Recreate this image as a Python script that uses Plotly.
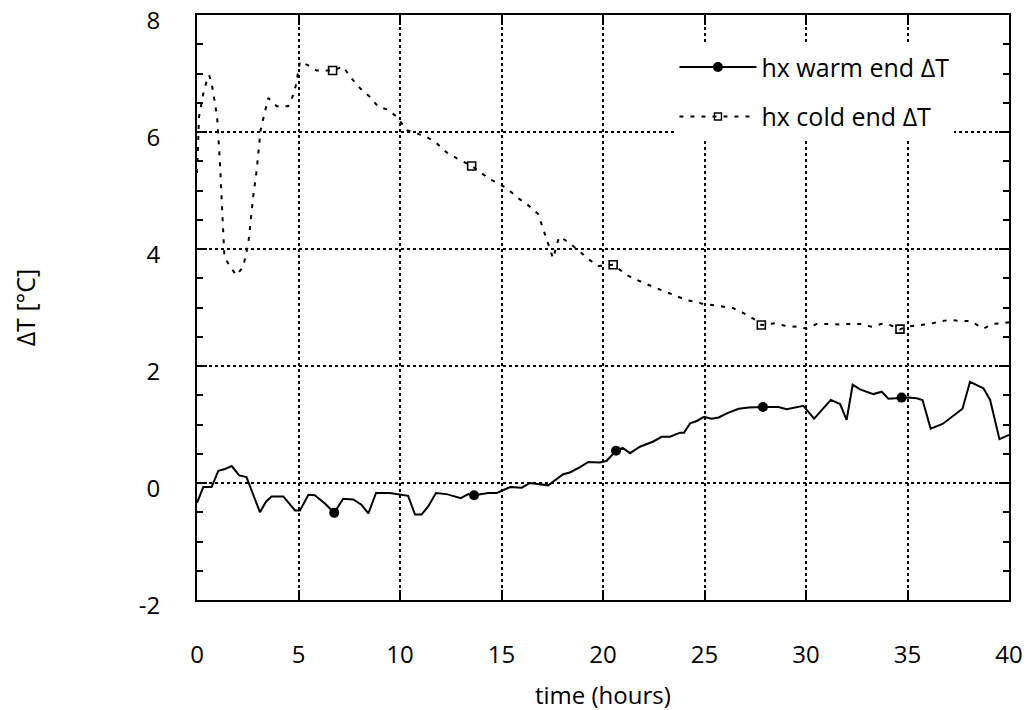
import plotly.graph_objects as go

# ---------------- data ----------------
warm_x = [0, 0.31, 0.72, 1.05, 1.38, 1.71, 2.08, 2.44, 3.1, 3.4, 3.67, 4.25, 4.83, 5.07, 5.49, 5.8,
          6.3, 6.76, 7.2, 7.7, 8.1, 8.44, 8.82, 9.5, 10.4, 10.74, 11.06, 11.39, 11.77, 12.3, 12.99,
          13.37, 13.65, 14.35, 14.77, 15.43, 16.0, 16.4, 17.3, 18.04, 18.37, 18.87, 19.28, 19.85,
          20.18, 20.64, 20.97, 21.33, 21.82, 22.48, 22.89, 23.3, 23.8, 23.99, 24.29, 24.62, 24.98,
          25.36, 25.7, 26.1, 26.68, 27.17, 27.88, 28.64, 29.05, 29.87, 30.4, 30.78, 31.22, 31.68,
          32.0, 32.3, 32.66, 33.32, 33.73, 34.06, 34.71, 35.04, 35.45, 35.74, 36.14, 36.73, 37.71,
          38.08, 38.74, 39.07, 39.53, 40]
warm_y = [-0.34, -0.07, -0.07, 0.21, 0.24, 0.29, 0.13, 0.10, -0.50, -0.32, -0.23, -0.23, -0.47, -0.47,
          -0.20, -0.21, -0.35, -0.51, -0.27, -0.28, -0.37, -0.52, -0.17, -0.17, -0.22, -0.54, -0.54,
          -0.40, -0.17, -0.19, -0.26, -0.19, -0.21, -0.17, -0.17, -0.07, -0.08, 0.0, -0.04, 0.15,
          0.18, 0.27, 0.36, 0.35, 0.38, 0.55, 0.60, 0.51, 0.62, 0.71, 0.79, 0.79, 0.86, 0.86, 1.02,
          1.06, 1.13, 1.10, 1.12, 1.19, 1.27, 1.29, 1.30, 1.30, 1.26, 1.32, 1.10, 1.25, 1.42, 1.35,
          1.08, 1.68, 1.60, 1.52, 1.56, 1.44, 1.46, 1.46, 1.45, 1.42, 0.93, 1.01, 1.27, 1.73, 1.62,
          1.42, 0.75, 0.82]
warm_mark_x = [6.76, 13.65, 20.64, 27.88, 34.71]
warm_mark_y = [-0.51, -0.21, 0.55, 1.30, 1.46]

cold_x = [0, 0.1, 0.31, 0.47, 0.6, 0.72, 0.89, 1.0, 1.13, 1.21, 1.3, 1.35, 1.62, 1.95, 2.28, 2.53,
          2.77, 2.94, 3.13, 3.35, 3.51, 3.93, 4.49, 4.74, 4.87, 5.07, 5.48, 5.89, 6.68, 7.2, 7.53,
          8.03, 8.52, 8.93, 9.43, 9.87, 10.33, 11.3, 11.8, 12.3, 12.8, 13.53, 14.35, 15.25, 15.82,
          16.31, 16.8, 17.18, 17.54, 17.79, 17.87, 18.36, 18.77, 19.35, 19.76, 20.5, 21.2, 22.0,
          23.0, 24.1, 24.85, 25.42, 26.4, 26.9, 27.5, 27.8, 28.47, 29.06, 29.55, 30.04, 30.53,
          31.1, 31.68, 32.17, 32.66, 33.24, 33.73, 34.14, 34.63, 35.12, 35.53, 36.1, 36.6, 37.1,
          37.6, 38.1, 38.74, 39.24, 39.65, 40]
cold_y = [5.3, 6.26, 6.66, 6.86, 6.97, 6.83, 6.49, 6.21, 5.47, 4.84, 4.32, 3.87, 3.7, 3.55, 3.7, 4.1,
          4.9, 5.35, 6.03, 6.38, 6.58, 6.44, 6.44, 6.63, 6.8, 7.2, 7.14, 7.05, 7.05, 7.12, 6.95,
          6.75, 6.6, 6.43, 6.38, 6.25, 6.03, 5.92, 5.81, 5.65, 5.55, 5.42, 5.21, 5.04, 4.87,
          4.75, 4.6, 4.21, 3.84, 4.15, 4.21, 4.1, 3.98, 3.81, 3.71, 3.73, 3.55, 3.42,
          3.28, 3.13, 3.07, 3.04, 2.99, 2.91, 2.79, 2.7, 2.73, 2.68, 2.67, 2.64, 2.72,
          2.72, 2.71, 2.72, 2.72, 2.67, 2.72, 2.7, 2.63, 2.68, 2.7, 2.72, 2.76, 2.79,
          2.77, 2.77, 2.64, 2.72, 2.73, 2.75]
cold_mark_x = [6.68, 13.53, 20.5, 27.8, 34.63]
cold_mark_y = [7.05, 5.42, 3.73, 2.70, 2.63]

series_names = ["hx warm end ΔT", "hx cold end ΔT"]
x_ticks = [0, 5, 10, 15, 20, 25, 30, 35, 40]
y_ticks = [-2, 0, 2, 4, 6, 8]

FONT = "Open Sans"
DASH = "4px,7px"

fig = go.Figure()

# warm end (solid line + filled circles)
fig.add_trace(go.Scatter(x=warm_x, y=warm_y, mode="lines", line=dict(color="black", width=2),
                         showlegend=False, hoverinfo="skip"))
fig.add_trace(go.Scatter(x=warm_mark_x, y=warm_mark_y, mode="markers",
                         marker=dict(symbol="circle", size=10, color="black"),
                         showlegend=False))
# cold end (dashed line + open squares)
fig.add_trace(go.Scatter(x=cold_x, y=cold_y, mode="lines",
                         line=dict(color="black", width=2, dash=DASH),
                         showlegend=False, hoverinfo="skip"))
fig.add_trace(go.Scatter(x=cold_mark_x, y=cold_mark_y, mode="markers",
                         marker=dict(symbol="square-open", size=8, color="black",
                                     line=dict(width=1.6, color="black")),
                         showlegend=False))

# legend entries
fig.add_trace(go.Scatter(x=[None], y=[None], mode="lines+markers", name=series_names[0],
                         legendgroup="a",
                         line=dict(color="black", width=2),
                         marker=dict(symbol="circle", size=10, color="black")))
fig.add_trace(go.Scatter(x=[None], y=[None], mode="lines+markers", name=series_names[1],
                         legendgroup="b",
                         line=dict(color="black", width=2, dash=DASH),
                         marker=dict(symbol="square-open", size=7, color="black",
                                     line=dict(width=1.4, color="black"))))

axis_common = dict(
    showline=True, linecolor="black", linewidth=2, mirror="allticks",
    ticks="inside", ticklen=10, tickwidth=2, tickcolor="black",
    showgrid=True, gridcolor="black", gridwidth=1.5, griddash="dot",
    zeroline=False, tickfont=dict(family=FONT, size=24, color="black"),
    ticklabeloverflow="allow",
)

fig.update_xaxes(range=[0, 40], tickvals=x_ticks, ticktext=[str(v) for v in x_ticks],
                 ticklabelstandoff=32, **axis_common)
fig.update_yaxes(range=[-2, 8], tickvals=y_ticks, ticktext=[str(v) for v in y_ticks],
                 ticklabelstandoff=30, ticklabelshift=6,
                 minor=dict(dtick=0.5, ticks="inside", ticklen=6, tickwidth=1.5,
                            tickcolor="black", showgrid=False),
                 **axis_common)

fig.update_layout(
    width=1029, height=710,
    margin=dict(l=197, r=20, t=15, b=110, autoexpand=False),
    paper_bgcolor="white", plot_bgcolor="white",
    font=dict(family=FONT, color="black"),
    showlegend=True,
    legend=dict(x=0.588, y=0.95, xanchor="left", yanchor="top",
                bgcolor="white", borderwidth=0, itemwidth=77,
                traceorder="grouped", tracegroupgap=14,
                font=dict(family=FONT, size=25, color="black")),
    annotations=[
        dict(text="ΔT [°C]", xref="paper", yref="paper", x=-0.212, y=0.5,
             xanchor="center", yanchor="middle", textangle=-90, showarrow=False,
             font=dict(family=FONT, size=25, color="black")),
        dict(text="time (hours)", xref="paper", yref="paper", x=0.5, y=-0.162,
             xanchor="center", yanchor="middle", showarrow=False,
             font=dict(family=FONT, size=24, color="black")),
    ],
)

fig.write_html("out.html")
